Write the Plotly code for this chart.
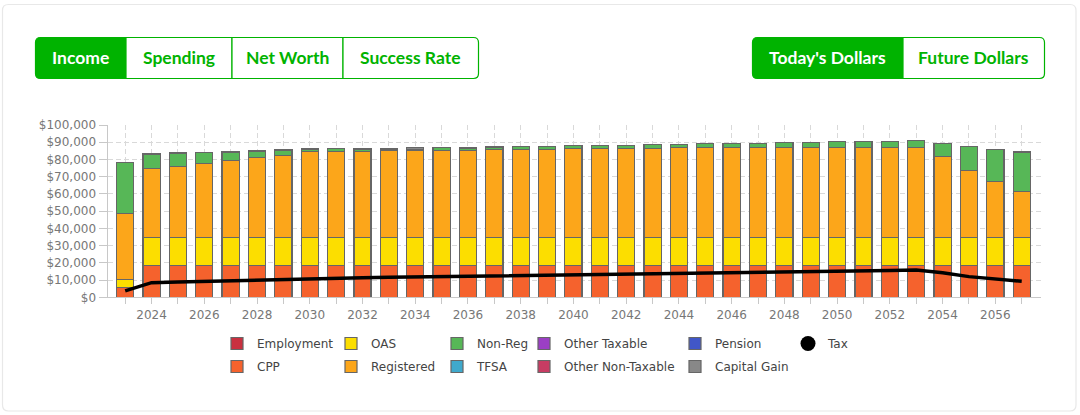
import plotly.graph_objects as go

years = list(range(2023, 2058))
tick_text = [str(y) if y % 2 == 0 else "" for y in years]
y_ticks = list(range(0, 100001, 10000))
y_labels = ["$" + format(v, ",") for v in y_ticks]

employment = [0] * 35
cpp = [5800] + [18600] * 34
oas = [4600] + [16200] * 34
registered = [38300, 40100, 41200, 43000, 44700, 46400, 47600, 49900, 49900, 49900,
              50500, 50500, 50500, 50500, 51100, 51100, 51100, 51700, 51700, 51700,
              51700, 52200, 52200, 52200, 52200, 52200, 52200, 52200, 52200, 52200,
              52200, 47000, 38900, 32500, 26700]
non_reg = [29600, 7900, 7400, 6200, 4500, 3300, 2700, 1000, 1700, 1400,
           600, 600, 1700, 1100, 900, 1700, 1700, 1700, 1700, 1700,
           2300, 1700, 2300, 2300, 2300, 2900, 2900, 3500, 3500, 3500,
           4000, 7500, 13900, 18600, 22500]
tfsa = [0] * 35
other_taxable = [0] * 35
other_non_taxable = [0] * 35
pension = [0] * 35
capital_gain = [0, 800, 700, 0, 700, 800, 800, 700, 0, 400,
                600, 1100, 0, 600, 800, 0, 0, 0, 0, 0,
                0, 0, 0, 0, 0, 0, 0, 0, 0, 0,
                0, 0, 0, 0, 600]
tax = [3700, 8500, 8900, 9300, 9700, 10100, 10600, 11000, 11200, 11400,
       11600, 11800, 11800, 12000, 12200, 12400, 12600, 12800, 13000, 13200,
       13300, 13500, 13700, 14100, 14300, 14500, 14700, 15100, 15300, 15500,
       15900, 14300, 12000, 10400, 9300]

series = [
    ("Employment", employment, "#c9303f", "legend"),
    ("CPP", cpp, "#f5622d", "legend"),
    ("OAS", oas, "#fcde00", "legend2"),
    ("Registered", registered, "#fca61a", "legend2"),
    ("Non-Reg", non_reg, "#57b757", "legend3"),
    ("TFSA", tfsa, "#3fa9cc", "legend3"),
    ("Other Taxable", other_taxable, "#9b3fc4", "legend4"),
    ("Other Non-Taxable", other_non_taxable, "#c73c63", "legend4"),
    ("Pension", pension, "#4157c8", "legend5"),
    ("Capital Gain", capital_gain, "#888888", "legend5"),
]

W, H = 1080, 415
GREEN = "#00b300"
BORDER = "#666666"
GRID = "#d9d9d9"
TEXT = "#777777"

def px(x):
    return x / W

def py(y):
    return 1 - y / H

fig = go.Figure()
for name, vals, color, leg in series:
    fig.add_trace(go.Bar(x=years, y=vals, name=name, legend=leg, legendgroup=name,
                         marker=dict(color=color, line=dict(color=BORDER, width=1.2))))
fig.add_trace(go.Scatter(x=years, y=tax, mode="lines", name="Tax", showlegend=False,
                         line=dict(color="#000000", width=3.5)))
fig.add_trace(go.Scatter(x=[None], y=[None], mode="markers", name="Tax", legend="legend6",
                         marker=dict(color="#000000", size=15)))

def rounded(x0, y0, x1, y1, left=False, right=False, r=5):
    """SVG path (in paper coordinates) of a box with optional rounded sides."""
    rx, ry = r / W, r / H
    a, b, c, d = px(x0), py(y0), px(x1), py(y1)
    p = []
    if left:
        p.append(f"M{a},{b - ry} Q{a},{b} {a + rx},{b}")
    else:
        p.append(f"M{a},{b}")
    if right:
        p.append(f"L{c - rx},{b} Q{c},{b} {c},{b - ry} L{c},{d + ry} Q{c},{d} {c - rx},{d}")
    else:
        p.append(f"L{c},{b} L{c},{d}")
    if left:
        p.append(f"L{a + rx},{d} Q{a},{d} {a},{d + ry} Z")
    else:
        p.append(f"L{a},{d} Z")
    return " ".join(p)

shapes = [dict(type="path", xref="paper", yref="paper", layer="below",
               path=rounded(2.5, 4.5, 1076, 411, True, True, 6),
               line=dict(color="#e8e8e8", width=1.2), fillcolor="#ffffff")]
annots = []

def button_group(edges, labels, active):
    n = len(labels)
    for i, lab in enumerate(labels):
        on = i == active
        shapes.append(dict(type="path", xref="paper", yref="paper",
                           path=rounded(edges[i], 37.5, edges[i + 1], 78.5, i == 0, i == n - 1),
                           line=dict(color=GREEN, width=1.2),
                           fillcolor=GREEN if on else "#ffffff"))
        annots.append(dict(xref="paper", yref="paper", x=px((edges[i] + edges[i + 1]) / 2),
                           y=py(57.5), xanchor="center", yanchor="middle",
                           text=f"<b>{lab}</b>", showarrow=False,
                           font=dict(family="Lato, sans-serif", size=17.5,
                                     color="#ffffff" if on else GREEN)))

button_group([35.5, 126, 232, 343, 478.5], ["Income", "Spending", "Net Worth", "Success Rate"], 0)
button_group([752.5, 903, 1044.5], ["Today's Dollars", "Future Dollars"], 0)

legend_x = {"legend": 217, "legend2": 331, "legend3": 437, "legend4": 524, "legend5": 675, "legend6": 788}
legend_layout = {
    k: dict(x=px(v), y=py(329), xanchor="left", yanchor="top", orientation="v",
            bgcolor="rgba(0,0,0,0)", tracegroupgap=4, itemwidth=30,
            font=dict(family="DejaVu Sans", size=12, color="#444444"))
    for k, v in legend_x.items()
}

fig.update_layout(
    width=W, height=H, autosize=False, margin=dict(l=0, r=0, t=0, b=0, autoexpand=False),
    paper_bgcolor="#ffffff", plot_bgcolor="#ffffff",
    barmode="stack", bargap=0.35, showlegend=True,
    shapes=shapes, annotations=annots,
    xaxis=dict(domain=[px(107.5), px(1040.7)], range=[2022.33, 2057.72], type="linear",
               tickmode="array", tickvals=years, ticktext=tick_text, ticks="outside",
               ticklen=6, tickcolor="#c8c8c8", showgrid=True, gridcolor=GRID,
               griddash="5px,3px", gridwidth=1, showline=True, linecolor="#c8c8c8",
               zeroline=False, tickangle=0,
               tickfont=dict(family="DejaVu Sans", size=12, color=TEXT)),
    yaxis=dict(domain=[py(297.3), py(125)], range=[0, 100000], tickmode="array",
               tickvals=y_ticks, ticktext=y_labels, ticks="outside", ticklen=8,
               tickcolor="#c8c8c8", showgrid=True, gridcolor=GRID, griddash="5px,3px",
               gridwidth=1, showline=True, linecolor="#c8c8c8", zeroline=False,
               tickfont=dict(family="DejaVu Sans", size=12, color=TEXT)),
    **legend_layout,
)

fig.write_html("out.html", config={"displayModeBar": False, "responsive": False},
               post_script="document.body.style.margin='0';document.body.style.overflow='hidden';")
